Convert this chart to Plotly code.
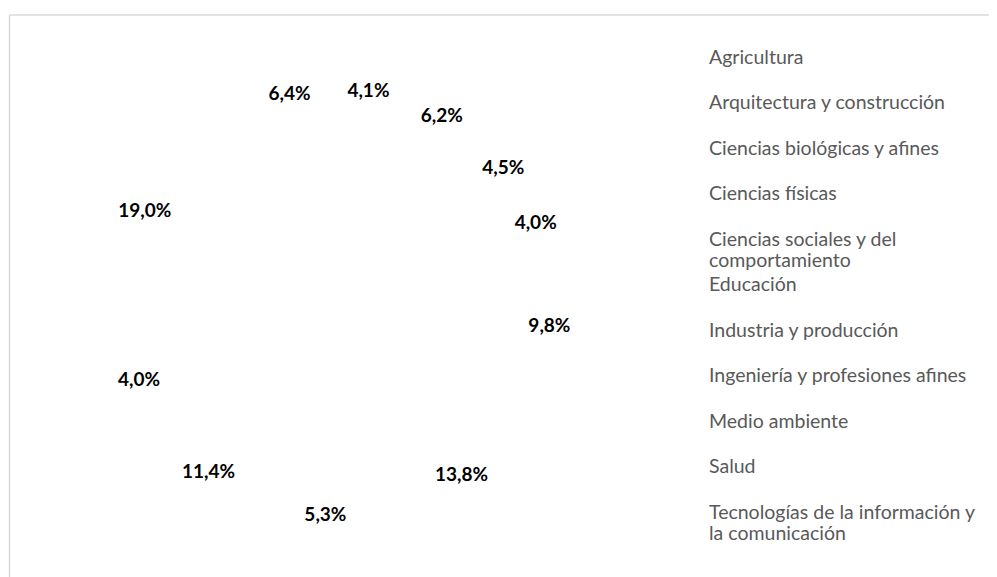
import plotly.graph_objects as go

# ---- data ----
categorias = [
    "Agricultura",
    "Arquitectura y construcción",
    "Ciencias biológicas y afines",
    "Ciencias físicas",
    "Ciencias sociales y del comportamiento",
    "Educación",
    "Industria y producción",
    "Ingeniería y profesiones afines",
    "Medio ambiente",
    "Salud",
    "Tecnologías de la información y la comunicación",
]
porcentajes = [4.1, 6.2, 4.5, 4.0, 9.8, 13.8, 5.3, 11.4, 4.0, 19.0, 6.4]

# legend line wrapping as in the reference
cortes_leyenda = {
    "Ciencias sociales y del comportamiento": ["Ciencias sociales y del", "comportamiento"],
    "Tecnologías de la información y la comunicación": ["Tecnologías de la información y", "la comunicación"],
}

LEG_GLYPH = 19.5  # visual glyph size of legend text


def etiqueta_leyenda(cat):
    lineas = cortes_leyenda.get(cat, [cat, "\u00a0"])
    return "<br>".join(
        '<span style="font-size:%.1fpx">%s</span>' % (LEG_GLYPH, l) for l in lineas
    )


etiquetas = [etiqueta_leyenda(c) for c in categorias]

# figure placed after the browser's 8px body margin, reaching the window edges
W, H = 989, 569
cx, cy, r = 329.5, 292.5, 243

fig = go.Figure(
    go.Pie(
        labels=etiquetas,
        values=porcentajes,
        sort=False,
        direction="clockwise",
        rotation=0,
        hole=0.755,
        marker=dict(colors=["rgba(0,0,0,0)"] * len(categorias),
                    line=dict(color="rgba(0,0,0,0)", width=0)),
        texttemplate="%{value:.1f}%",
        textposition="inside",
        insidetextorientation="horizontal",
        textfont=dict(family="Lato", size=19, color="#000000", weight="bold"),
        hoverinfo="skip",
        domain=dict(x=[(cx - r) / W, (cx + r) / W],
                    y=[1 - (cy + r) / H, 1 - (cy - r) / H]),
    )
)

x_borde = 1.5 / W
y_borde = 1 - 7 / H

fig.update_layout(
    width=W,
    height=H,
    margin=dict(l=0, r=0, t=0, b=0),
    paper_bgcolor="white",
    plot_bgcolor="white",
    separators=",.",
    showlegend=True,
    legend=dict(
        x=661 / W,
        xanchor="left",
        y=1 - 32 / H,
        yanchor="top",
        font=dict(family="Lato", size=16.35, color="#595959"),
        bgcolor="rgba(0,0,0,0)",
        borderwidth=0,
        itemclick=False,
        itemdoubleclick=False,
    ),
    shapes=[
        dict(type="line", xref="paper", yref="paper",
             x0=x_borde, x1=1.05, y0=y_borde, y1=y_borde,
             line=dict(color="#d9d9d9", width=1.5), layer="below"),
        dict(type="line", xref="paper", yref="paper",
             x0=x_borde, x1=x_borde, y0=-0.05, y1=y_borde,
             line=dict(color="#d9d9d9", width=1.5), layer="below"),
    ],
)

fig.write_html("out.html")
